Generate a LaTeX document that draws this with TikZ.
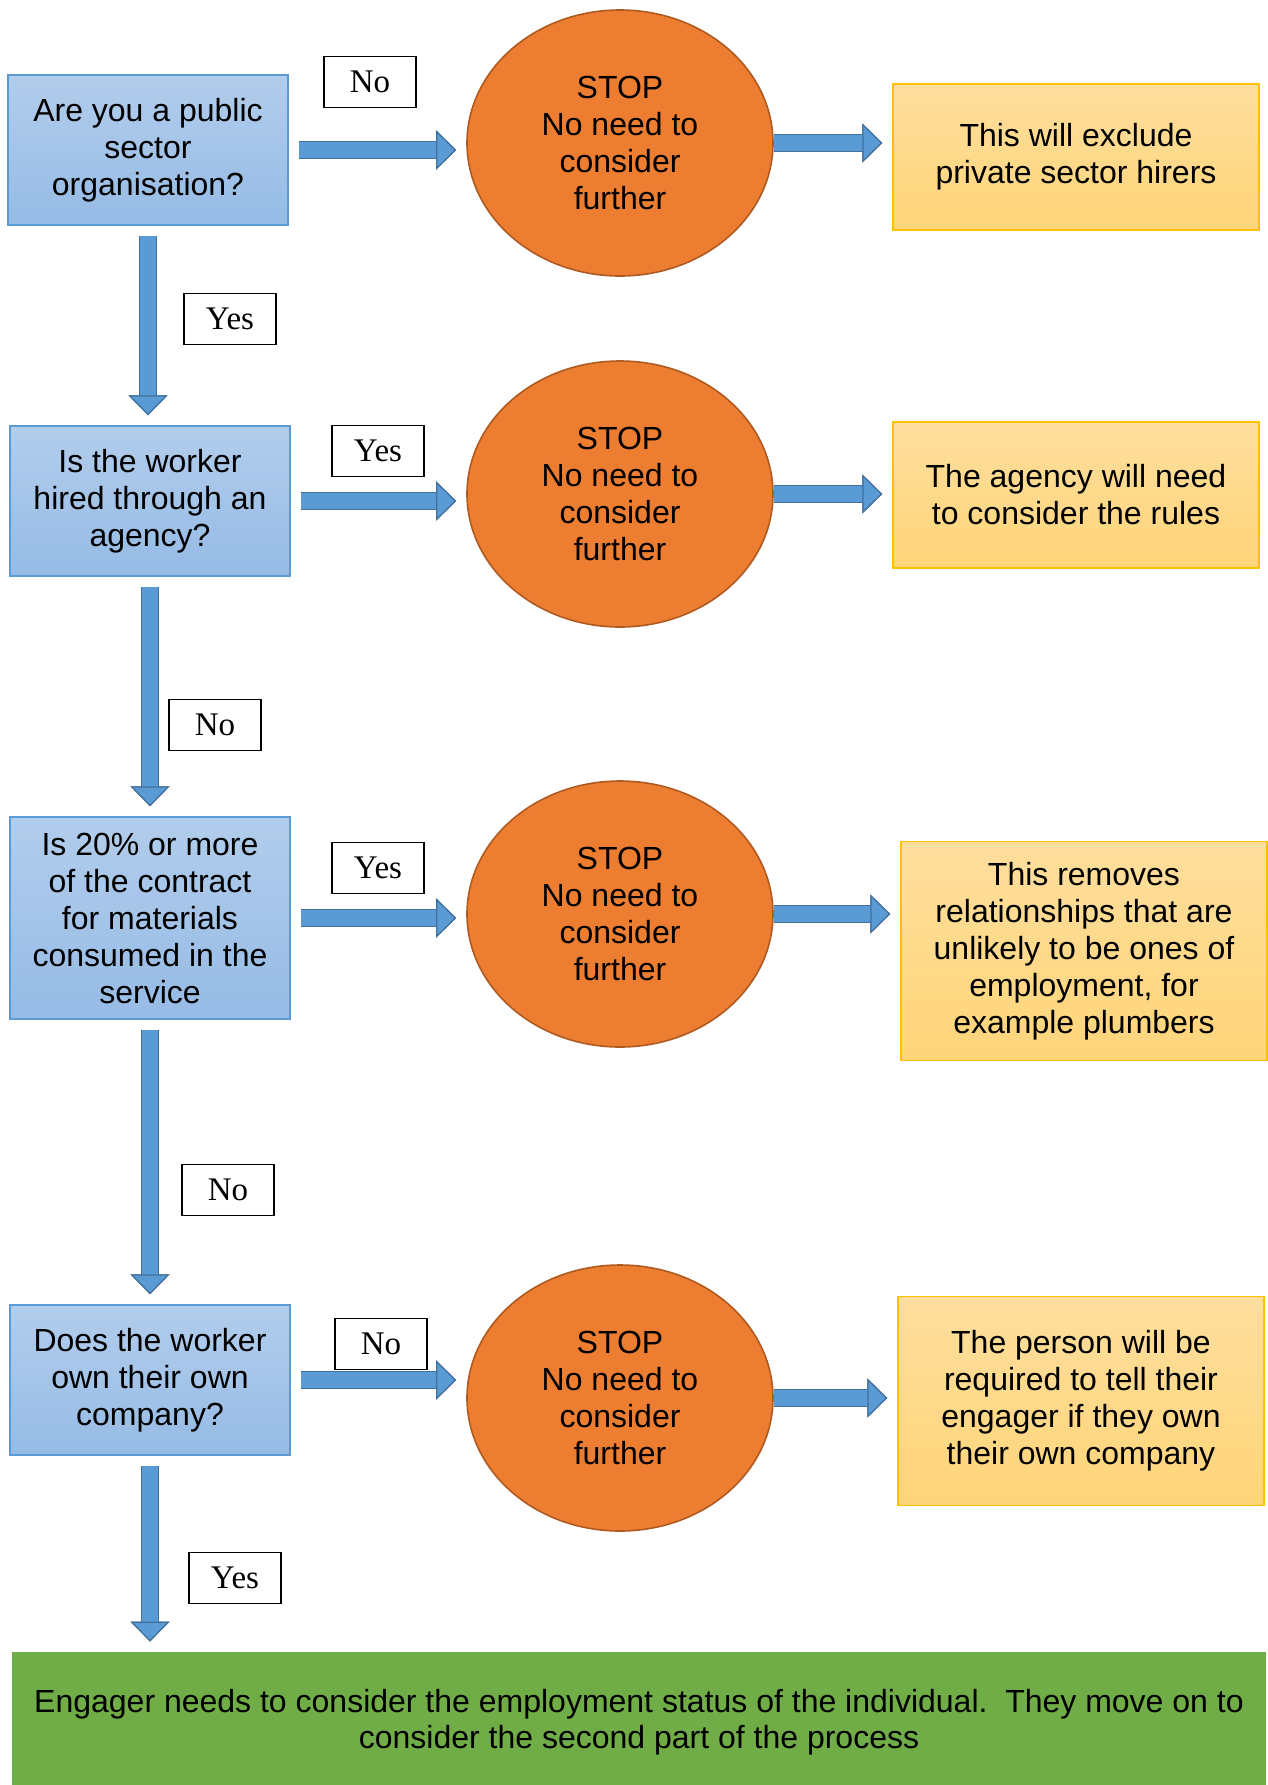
\documentclass[tikz,border=0pt]{standalone}
\usepackage{fontspec}
\setmainfont{Liberation Sans}
\newfontfamily\answerfont{Liberation Serif}
\usepackage{tikz}
\usetikzlibrary{shapes, arrows.meta, positioning}
\usepackage{xcolor}

\definecolor{qtop}{RGB}{178,205,236}
\definecolor{qbot}{RGB}{150,187,229}
\definecolor{qedge}{RGB}{91,155,213}
\definecolor{stopfill}{RGB}{237,125,49}
\definecolor{stopedge}{RGB}{174,90,33}
\definecolor{ntop}{RGB}{254,222,157}
\definecolor{nbot}{RGB}{255,213,121}
\definecolor{nedge}{RGB}{255,192,0}
\definecolor{arrowfill}{RGB}{91,155,213}
\definecolor{arrowedge}{RGB}{65,113,156}
\definecolor{endfill}{RGB}{112,173,71}

\begin{document}
\begin{tikzpicture}[
    x=0.5pt, y=-0.5pt,
    question/.style={rectangle, draw=qedge, line width=0.7pt, top color=qtop, bottom color=qbot, minimum width=140pt, minimum height=75pt, align=center, font=\fontsize{16}{18.5}\selectfont},
    stopper/.style={ellipse, draw=stopedge, line width=0.8pt, fill=stopfill, minimum width=153pt, minimum height=133pt, align=center, font=\fontsize{16}{18.5}\selectfont},
    note/.style={rectangle, draw=nedge, line width=0.7pt, top color=ntop, bottom color=nbot, minimum width=183pt, minimum height=73pt, align=center, font=\fontsize{16}{18.5}\selectfont},
    answer/.style={rectangle, draw, line width=0.6pt, minimum width=46pt, minimum height=25.5pt, font=\answerfont\fontsize{16.5}{18}\selectfont},
    flow/.style={line width=8pt, draw=arrowfill, shorten <=5pt, shorten >=5pt, -{Triangle[length=10pt, width=19.5pt, fill=arrowfill, color=arrowedge, line width=0.6pt]}, preaction={draw=arrowedge, line width=9.2pt}}
]
\useasboundingbox (0,0) rectangle (1268,1785);

% Fragen
\node[question] (q1) at (148,150) {Are you a public\\sector\\organisation?};
\node[question] (q2) at (150,501) {Is the worker\\hired through an\\agency?};
\node[question, minimum height=101pt] (q3) at (150,918) {Is 20\% or more\\of the contract\\for materials\\consumed in the\\service};
\node[question] (q4) at (150,1380) {Does the worker\\own their own\\company?};

% STOP
\node[stopper] (s1) at (620,143) {STOP\\No need to\\consider\\further};
\node[stopper] (s2) at (620,494) {STOP\\No need to\\consider\\further};
\node[stopper] (s3) at (620,914) {STOP\\No need to\\consider\\further};
\node[stopper] (s4) at (620,1398) {STOP\\No need to\\consider\\further};

% Hinweise
\node[note] (n1) at (1076,157) {This will exclude\\private sector hirers};
\node[note] (n2) at (1076,495) {The agency will need\\to consider the rules};
\node[note, minimum height=109.5pt] (n3) at (1084,951) {This removes\\relationships that are\\unlikely to be ones of\\employment, for\\example plumbers};
\node[note, minimum height=104.5pt] (n4) at (1081,1401) {The person will be\\required to tell their\\engager if they own\\their own company};

% Ergebnis
\node[fill=endfill, minimum width=627pt, minimum height=70pt, align=center, font=\fontsize{16}{18}\selectfont] (final) at (639,1722) {Engager needs to consider the employment status of the individual.\ \ They move on to\\consider the second part of the process};

% Antworten
\node[answer] (a1) at (370,82) {No};
\node[answer] (a2) at (230,319) {Yes};
\node[answer] (a3) at (378,451) {Yes};
\node[answer] (a4) at (215,725) {No};
\node[answer] (a5) at (378,868) {Yes};
\node[answer] (a6) at (228,1190) {No};
\node[answer] (a7) at (381,1344) {No};
\node[answer] (a8) at (235,1578) {Yes};

% Pfeile
\draw[flow] (q1.east) -- (q1.east -| s1.west);
\draw[flow] (q2.east) -- (q2.east -| s2.west);
\draw[flow] (q3.east) -- (q3.east -| s3.west);
\draw[flow] (q4.east) -- (q4.east -| s4.west);
\draw[flow, shorten <=0pt] (s1.east) -- (s1.east -| n1.west);
\draw[flow, shorten <=0pt] (s2.east) -- (s2.east -| n2.west);
\draw[flow, shorten <=0pt] (s3.east) -- (s3.east -| n3.west);
\draw[flow, shorten <=0pt] (s4.east) -- (s4.east -| n4.west);
\draw[flow] (q1.south) -- (q1.south |- q2.north);
\draw[flow] (q2.south) -- (q2.south |- q3.north);
\draw[flow] (q3.south) -- (q3.south |- q4.north);
\draw[flow] (q4.south) -- (q4.south |- final.north);

\end{tikzpicture}
\end{document}
